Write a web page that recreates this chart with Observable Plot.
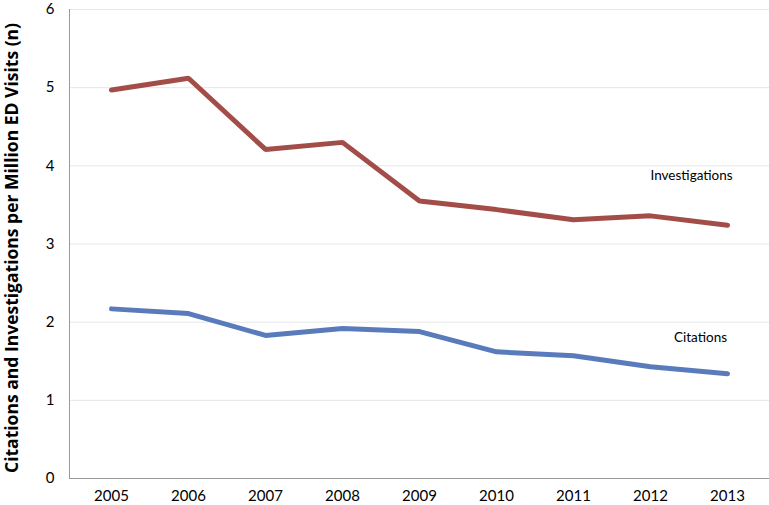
<!DOCTYPE html>
<html>
<head>
<meta charset="utf-8">
<script src="https://cdn.jsdelivr.net/npm/d3@7"></script>
<script src="https://cdn.jsdelivr.net/npm/@observablehq/plot@0.6"></script>
<style>
  html, body { margin: 0; padding: 0; background: #fff; }
  #chart svg { display: block; }
</style>
</head>
<body>
<div id="chart"></div>
<script>
const years = ["2005","2006","2007","2008","2009","2010","2011","2012","2013"];
const investigations = [4.97, 5.12, 4.21, 4.30, 3.55, 3.44, 3.31, 3.36, 3.24];
const citations = [2.17, 2.11, 1.83, 1.92, 1.88, 1.62, 1.57, 1.43, 1.34];
const yTicks = [0, 1, 2, 3, 4, 5, 6];
const seriesLabels = ["Investigations", "Citations"];

const invData = years.map((y, i) => ({year: y, value: investigations[i]}));
const citData = years.map((y, i) => ({year: y, value: citations[i]}));

const font = "Lato, 'Open Sans', sans-serif";

const chart = Plot.plot({
  width: 769,
  height: 505,
  marginLeft: 69,
  marginRight: 0,
  marginTop: 9,
  marginBottom: 27,
  style: {fontFamily: font, fontSize: "15px", color: "#000", background: "#fff"},
  x: {type: "point", domain: years, padding: 0.5, label: null},
  y: {domain: [0, 6], ticks: yTicks, label: null},
  marks: [
    Plot.gridY(yTicks, {stroke: "#e6e6e6", strokeOpacity: 1, strokeWidth: 1}),
    Plot.axisY(yTicks, {tickSize: 0, tickPadding: 15, fontSize: 15, tickFormat: d3.format("d"), label: null}),
    Plot.axisX(years, {tickSize: 0, tickPadding: 12, fontSize: 15, label: null}),
    Plot.frame({anchor: "left", stroke: "#999"}),
    Plot.frame({anchor: "bottom", stroke: "#999"}),
    Plot.line(invData, {x: "year", y: "value", stroke: "#a34d49", strokeWidth: 5, strokeLinecap: "round", strokeLinejoin: "miter"}),
    Plot.line(citData, {x: "year", y: "value", stroke: "#5a7bbb", strokeWidth: 5, strokeLinecap: "round", strokeLinejoin: "miter"}),
    Plot.text([seriesLabels[0]], {x: () => "2012", y: () => 3.88, text: d => d, textAnchor: "start", fontSize: 13.5, fill: "#000"}),
    Plot.text([seriesLabels[1]], {x: () => "2013", y: () => 1.80, dx: -27, text: d => d, textAnchor: "middle", fontSize: 13.5, fill: "#000"})
  ]
});

d3.select(chart).append("text")
  .attr("transform", "translate(18,248) rotate(-90)")
  .attr("text-anchor", "middle")
  .attr("font-family", "'Open Sans', sans-serif")
  .attr("font-weight", "bold")
  .attr("font-size", 17.5)
  .attr("fill", "#000")
  .text("Citations and Investigations per Million ED Visits (n)");

document.getElementById("chart").appendChild(chart);
</script>
</body>
</html>
